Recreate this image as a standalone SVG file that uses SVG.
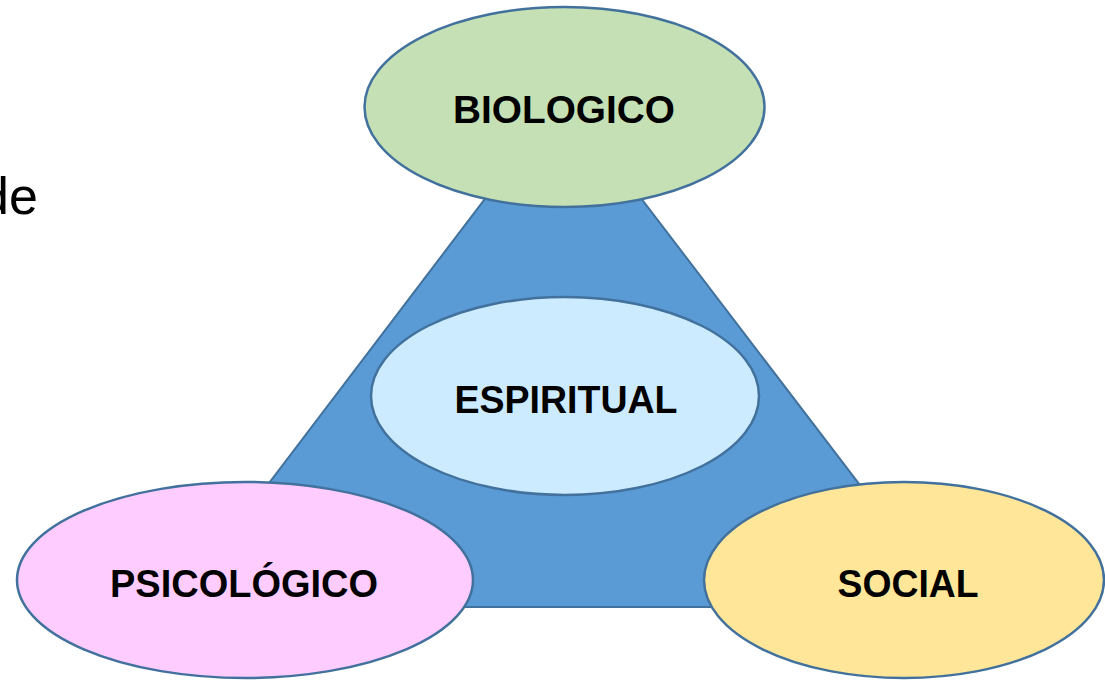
<svg xmlns="http://www.w3.org/2000/svg" width="1105" height="681" viewBox="0 0 1105 681">
<style>
.node{stroke:#41719C;stroke-width:2.5}
.lbl{font-family:"Liberation Sans",Arial,sans-serif;font-weight:bold;font-size:38px;fill:#000;text-anchor:middle}
</style>
<rect width="1105" height="681" fill="#fff"/>
<text x="-20" y="214" font-family="Liberation Sans, Arial, sans-serif" font-size="52" fill="#000">de</text>
<g id="triangle">
<polygon points="563,96 953,607 175,607" fill="#5B9BD5" stroke="#41719C" stroke-width="2"/>
</g>
<g id="biologico">
<ellipse class="node" cx="564.5" cy="107" rx="200" ry="100" fill="#C5E0B4"/>
<text class="lbl" x="564" y="123" textLength="222" lengthAdjust="spacingAndGlyphs">BIOLOGICO</text>
</g>
<g id="espiritual">
<ellipse class="node" cx="565" cy="396" rx="194" ry="99" fill="#CCEBFF"/>
<text class="lbl" x="566" y="413" textLength="223" lengthAdjust="spacingAndGlyphs">ESPIRITUAL</text>
</g>
<g id="psicologico">
<ellipse class="node" cx="245" cy="580" rx="228" ry="98" fill="#FFCCFF"/>
<text class="lbl" x="244" y="597" textLength="268" lengthAdjust="spacingAndGlyphs">PSICOLÓGICO</text>
</g>
<g id="social">
<ellipse class="node" cx="904" cy="580" rx="200" ry="98" fill="#FFE699"/>
<text class="lbl" x="908" y="597" textLength="141" lengthAdjust="spacingAndGlyphs">SOCIAL</text>
</g>
<g id="connectors"></g>
</svg>
